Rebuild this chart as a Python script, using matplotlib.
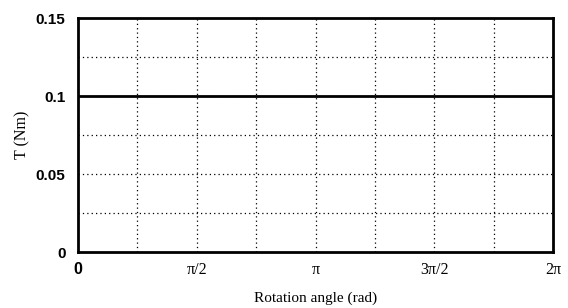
import numpy as np
import matplotlib
matplotlib.use("Agg")
import matplotlib.pyplot as plt

#---------- Data ----------#

angle = [0.0, 2 * np.pi]
torque = [0.1, 0.1]

xticks = [0, np.pi / 2, np.pi, 3 * np.pi / 2, 2 * np.pi]
xticklabels = ["0", "π/2", "π", "3π/2", "2π"]
yticks = [0, 0.05, 0.1, 0.15]
yticklabels = ["0", "0.05", "0.1", "0.15"]

#---------- Plot ----------#

fig = plt.figure(figsize=(5.68, 3.08), dpi=100)
ax = fig.add_axes([78 / 568, 56 / 308, 475 / 568, 234 / 308])

ax.plot(angle, torque, color="black", linewidth=2)

ax.set_xlim(0, 2 * np.pi)
ax.set_ylim(0, 0.15)

# dotted grid every pi/4 and every 0.025
for gx in np.arange(1, 8) * np.pi / 4:
    ax.axvline(gx, color="black", linewidth=0.9, linestyle=(0, (1, 2.5)), zorder=0)
for gy in np.arange(1, 6) * 0.025:
    ax.axhline(gy, color="black", linewidth=0.9, linestyle=(0, (1, 2.5)), zorder=0)

ax.set_xticks(xticks)
ax.set_yticks(yticks)
ax.set_xticklabels(xticklabels, family=["Liberation Serif", "DejaVu Serif"], fontsize=11.5)
ax.set_yticklabels(yticklabels, family="Liberation Sans", fontweight="bold", fontsize=11)
ax.get_xticklabels()[0].set_family("Liberation Sans")
ax.get_xticklabels()[0].set_fontweight("bold")
ax.tick_params(axis="x", length=0, pad=7)
ax.tick_params(axis="y", length=0, pad=9)

for s in ax.spines.values():
    s.set_linewidth(2)

ax.set_xlabel("Rotation angle (rad)", family="Liberation Serif", fontsize=11, labelpad=10)
ax.set_ylabel("T (Nm)", family="Liberation Serif", fontsize=11.5, labelpad=4)

plt.savefig("out.png", dpi=100)
